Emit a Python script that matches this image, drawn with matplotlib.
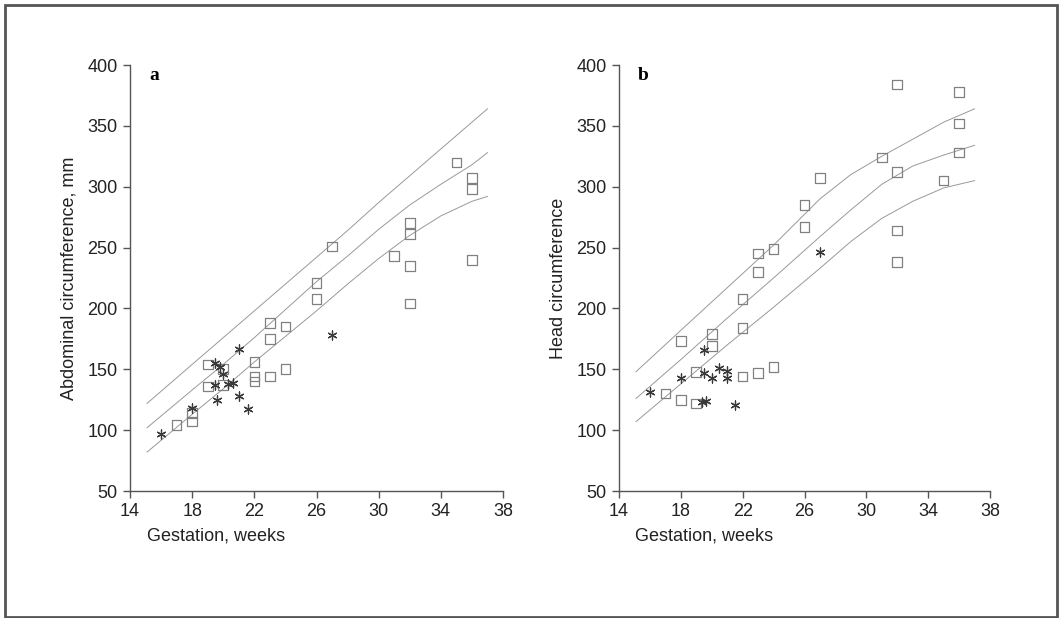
import matplotlib
matplotlib.use("Agg")
import matplotlib.pyplot as plt
from matplotlib.patches import Rectangle

plt.rcParams["font.family"] = ["Liberation Sans", "DejaVu Sans"]

# panel a: abdominal circumference
a_sq_x = [17, 18, 18, 19, 19, 20, 20, 22, 22, 22, 23, 23, 23, 24, 24, 26, 26, 27, 31,
          32, 32, 32, 32, 35, 36, 36, 36]
a_sq_y = [104, 107, 114, 154, 136, 150, 137, 156, 144, 140, 188, 175, 144, 185, 150, 221, 208, 251, 243,
          270, 261, 235, 204, 320, 307, 298, 240]
a_st_x = [16, 18, 19.5, 19.8, 19.5, 19.6, 20, 20.3, 20.6, 21, 21, 21.6, 27]
a_st_y = [97, 118, 155, 152, 137, 125, 146, 138, 139, 167, 128, 117, 178]

a_line_x = [15.1, 18, 20, 22, 24, 26, 28, 30, 32, 34, 36, 37]
a_upper = [122, 154, 176, 198, 220, 242, 264, 287, 309, 331, 353, 364]
a_mid = [102, 133, 154, 176, 199, 222, 243, 265, 285, 302, 318, 328]
a_low = [82, 113, 134, 156, 177, 198, 220, 241, 260, 276, 288, 292]

# panel b: head circumference
b_sq_x = [17, 18, 18, 19, 19, 20, 20, 22, 22, 22, 23, 24, 23, 23, 24, 26, 26, 27, 31,
          32, 32, 32, 32, 35, 36, 36, 36]
b_sq_y = [130, 173, 125, 148, 122, 179, 169, 208, 184, 144, 147, 152, 245, 230, 249, 285, 267, 307, 324,
          384, 312, 264, 238, 305, 378, 352, 328]
b_st_x = [16, 18, 19.5, 19.5, 19.4, 19.6, 20, 20.5, 21, 21, 21.5, 27]
b_st_y = [131, 143, 166, 147, 123, 124, 143, 151, 149, 143, 121, 246]

b_line_x = [15.1, 18, 21, 24, 27, 29, 31, 33, 35, 37]
b_upper = [148, 182, 217, 252, 290, 310, 325, 339, 353, 364]
b_mid = [126, 158, 192, 225, 259, 281, 302, 317, 326, 334]
b_low = [107, 138, 170, 201, 233, 255, 274, 288, 299, 305]

xticks = [14, 18, 22, 26, 30, 34, 38]
yticks = [50, 100, 150, 200, 250, 300, 350, 400]

fig = plt.figure(figsize=(10.63, 6.18), dpi=100)
W, H = 1063, 618
ax_a = fig.add_axes([130 / W, 127 / H, 373 / W, 426 / H])
ax_b = fig.add_axes([619 / W, 127 / H, 371 / W, 426 / H])

fig.patches.append(Rectangle((5 / W, 1 / H), 1052 / W, 612 / H, transform=fig.transFigure,
                             fill=False, edgecolor="#555555", linewidth=2))

panels = [
    (ax_a, a_sq_x, a_sq_y, a_st_x, a_st_y, a_line_x, [a_upper, a_mid, a_low],
     "Abdominal circumference, mm", "a"),
    (ax_b, b_sq_x, b_sq_y, b_st_x, b_st_y, b_line_x, [b_upper, b_mid, b_low],
     "Head circumference", "b"),
]

for ax, sqx, sqy, stx, sty, lx, lines, ylabel, tag in panels:
    for ly in lines:
        ax.plot(lx, ly, color="#999999", linewidth=0.7)
    ax.scatter(sqx, sqy, marker="s", s=48, facecolors="none", edgecolors="#808080", linewidths=0.9, zorder=3)
    ax.scatter(stx, sty, marker=(6, 2, 0), s=42, color="#3a3a3a", linewidths=0.9, zorder=4)
    ax.set_xlim(14, 38)
    ax.set_ylim(50, 400)
    ax.set_xticks(xticks)
    ax.set_yticks(yticks)
    for s in ["top", "right"]:
        ax.spines[s].set_visible(False)
    for s in ["left", "bottom"]:
        ax.spines[s].set_color("#555555")
        ax.spines[s].set_linewidth(1.0)
    ax.tick_params(direction="out", length=5, width=1, colors="#555555", labelcolor="#222222",
                   labelsize=13, pad=4)
    ax.set_xlabel("Gestation, weeks", fontsize=13, color="#222222", labelpad=1)
    ax.xaxis.set_label_coords(0.23, -0.085)
    ax.set_ylabel(ylabel, fontsize=13, color="#222222", labelpad=7)
    ax.text(0.065, 0.995, tag, transform=ax.transAxes, fontsize=14, fontweight="bold",
            family="Liberation Serif", va="top", ha="center")
    ax.set_facecolor("none")

fig.savefig("out.png", dpi=100, facecolor="white")
